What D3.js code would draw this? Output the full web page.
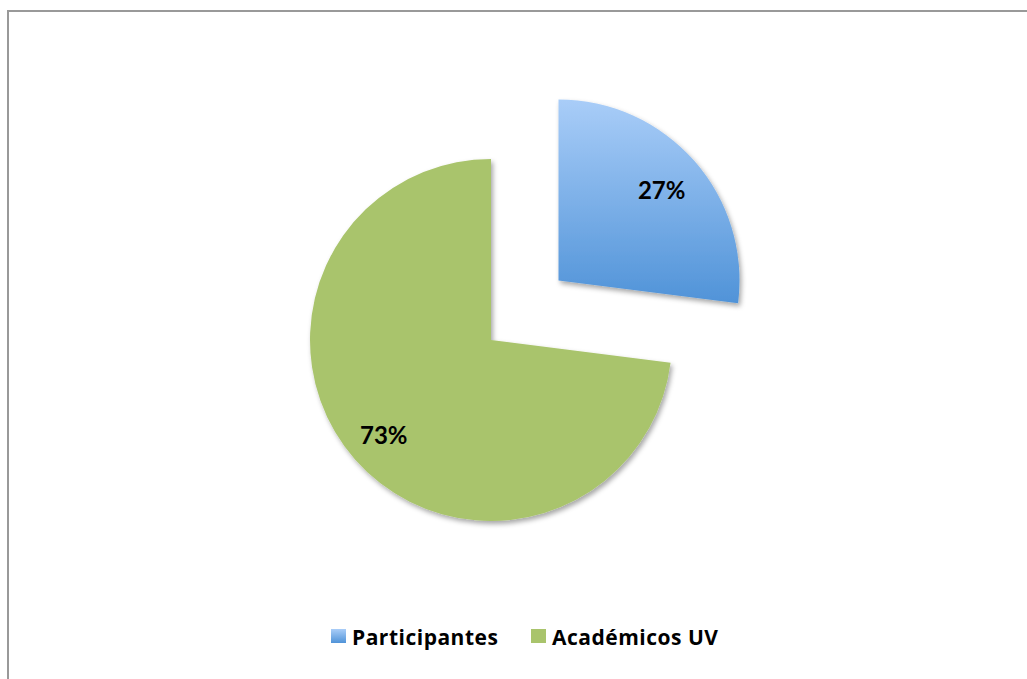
<!DOCTYPE html>
<html><head><meta charset="utf-8">
<script src="https://cdn.jsdelivr.net/npm/d3@7"></script>
<style>html,body{margin:0;padding:0;background:#fff;}svg{display:block;}</style>
</head><body>
<svg id="c" width="1027" height="679"></svg>
<script>
const categories = ["Participantes", "Académicos UV"];
const values = [27, 73];
const pctLabels = ["27%", "73%"];

const W = 1027, H = 679;
const svg = d3.select("#c");
const defs = svg.append("defs");

const gb = defs.append("linearGradient").attr("id","gBlue").attr("x1",0).attr("y1",0).attr("x2",0).attr("y2",1);
gb.append("stop").attr("offset","0%").attr("stop-color","#a9cdf8");
gb.append("stop").attr("offset","100%").attr("stop-color","#5093d8");
const gl = defs.append("linearGradient").attr("id","gLegBlue").attr("x1",0).attr("y1",0).attr("x2",0).attr("y2",1);
gl.append("stop").attr("offset","0%").attr("stop-color","#a9cdf8");
gl.append("stop").attr("offset","100%").attr("stop-color","#5093d8");
const f = defs.append("filter").attr("id","sh").attr("x","-20%").attr("y","-20%").attr("width","140%").attr("height","140%");
f.append("feDropShadow").attr("dx",2).attr("dy",3).attr("stdDeviation",2.5).attr("flood-color","#000").attr("flood-opacity",0.35);

svg.append("path").attr("d", `M8,${H+5} L8,11 L${W+5},11`).attr("fill","none").attr("stroke","#999").attr("stroke-width",2);

const fills = ["url(#gBlue)", "#a9c46c"];
const legendFills = ["url(#gLegBlue)", "#a9c46c"];
const explode = [90, 0];
const labelR = [0.76, 0.79];

const cx = 491, cy = 340, R = 181;
const pie = d3.pie().sort(null).value(d => d)(values);
const arc = d3.arc().innerRadius(0).outerRadius(R);

const g = svg.append("g").attr("transform", `translate(${cx},${cy})`);
pie.forEach((p, i) => {
  const mid = (p.startAngle + p.endAngle) / 2;
  const ox = Math.sin(mid) * explode[i], oy = -Math.cos(mid) * explode[i];
  const sg = g.append("g").attr("transform", `translate(${ox},${oy})`);
  sg.append("path").attr("d", arc(p)).attr("fill", fills[i]).attr("filter","url(#sh)");
  const lr = R * labelR[i];
  sg.append("text")
    .attr("x", Math.sin(mid) * lr).attr("y", -Math.cos(mid) * lr)
    .attr("text-anchor","middle").attr("dominant-baseline","central")
    .attr("font-family","Lato, 'Open Sans', sans-serif").attr("font-weight","bold")
    .attr("font-size", 24).attr("fill","#000").text(pctLabels[i]);
});

const legX = [331, 531];
const leg = svg.append("g");
categories.forEach((c, i) => {
  leg.append("rect").attr("x", legX[i]).attr("y", 629).attr("width", 15).attr("height", 14).attr("fill", legendFills[i]);
  leg.append("text").attr("x", legX[i] + 21).attr("y", 645)
    .attr("font-family","'Open Sans', sans-serif").attr("font-weight","bold")
    .attr("font-size", 21).attr("letter-spacing", 0.5).attr("fill","#000").text(c);
});
</script>
</body></html>
